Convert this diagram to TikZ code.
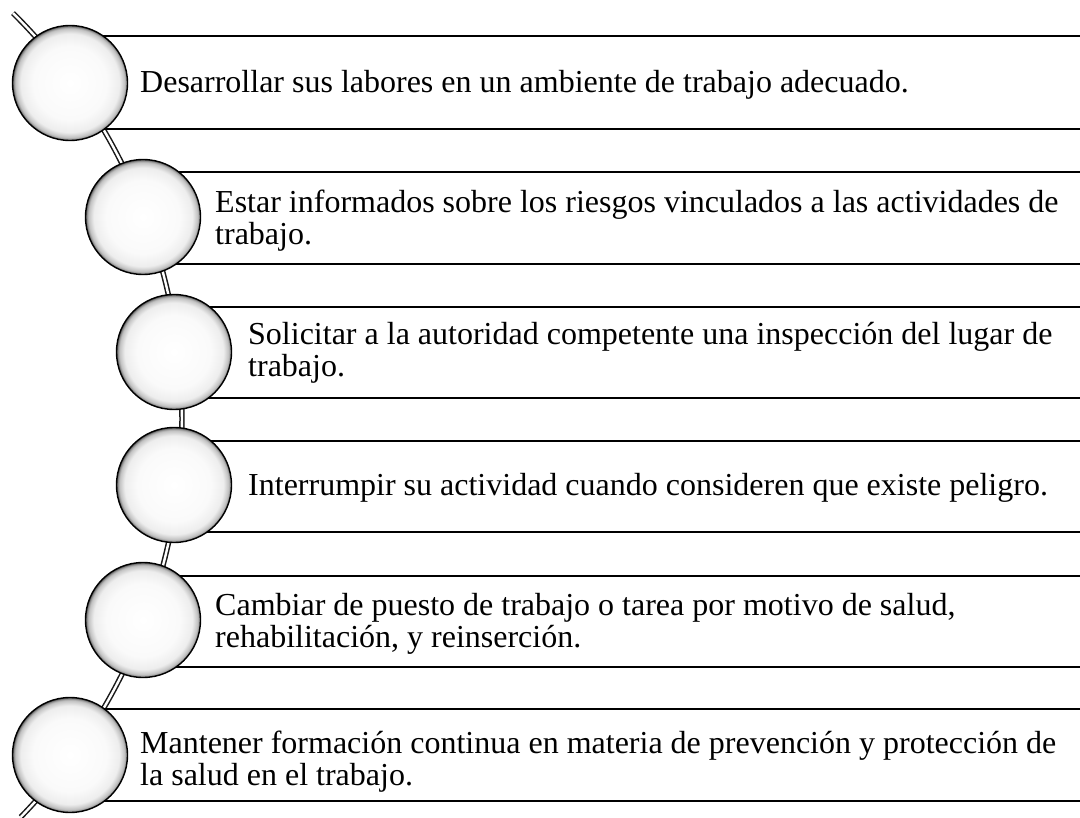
\documentclass[tikz,border=0pt]{standalone}
\usepackage{fontspec}
\setmainfont{Liberation Serif}
\usetikzlibrary{calc}
\pgfdeclareradialshading{orb}{\pgfpoint{0bp}{0bp}}{color(0bp)=(white); color(16bp)=(white!98!black); color(21.5bp)=(black!7); color(23.8bp)=(black!25); color(24.6bp)=(black!50); color(25bp)=(black!70); color(50bp)=(black!70)}
\newcommand{\twolines}[2]{\vtop{\baselineskip=32pt\hbox{#1}\hbox{#2}}}
\begin{document}
\begin{tikzpicture}[x=1pt,y=-1pt,
  orbnode/.style={circle, draw=black, line width=1.4pt, shading=orb, minimum size=115pt, inner sep=0pt},
  boxline/.style={draw=black, line width=1.5pt},
  arcline/.style={draw=black!90, line width=1.5pt, double=white, double distance=2.4pt},
  itemtext/.style={anchor=base west, inner sep=0pt, font=\fontsize{32}{32}\selectfont}]
\useasboundingbox (0,0) rectangle (1080,818);
% curved spine
\draw[arcline] ($(-390,419)+(-45.2:572)$) arc[start angle=-45.2, end angle=44.1, radius=572];
% circle positions
\coordinate (p1) at (70,83);
\coordinate (p2) at (143,217);
\coordinate (p3) at (174,352);
\coordinate (p4) at (174,485);
\coordinate (p5) at (143,620);
\coordinate (p6) at (70,755);
% box lines
\foreach \i/\t/\b in {1/36/129, 2/172/264, 3/307/398, 4/441/532, 5/576/667, 6/709/801}{
  \draw[boxline] (p\i |- 0,\t) -- (1080,\t);
  \draw[boxline] (p\i |- 0,\b) -- (1080,\b);
}
% circles
\foreach \i in {1,...,6}{ \node[orbnode] (c\i) at (p\i) {}; }
% texts
\node[itemtext] (t1) at (140,93) {Desarrollar sus labores en un ambiente de trabajo adecuado.};
\node[itemtext] (t2) at (215,213) {\twolines{Estar informados sobre los riesgos vinculados a las actividades de}{trabajo.}};
\node[itemtext] (t3) at (248,345) {\twolines{Solicitar a la autoridad competente una inspección del lugar de}{trabajo.}};
\node[itemtext] (t4) at (248,495) {Interrumpir su actividad cuando consideren que existe peligro.};
\node[itemtext] (t5) at (215,615) {\twolines{Cambiar de puesto de trabajo o tarea por motivo de salud,}{rehabilitación, y reinserción.}};
\node[itemtext] (t6) at (140,753) {\twolines{Mantener formación continua en materia de prevención y protección de}{la salud en el trabajo.}};
\end{tikzpicture}
\end{document}
